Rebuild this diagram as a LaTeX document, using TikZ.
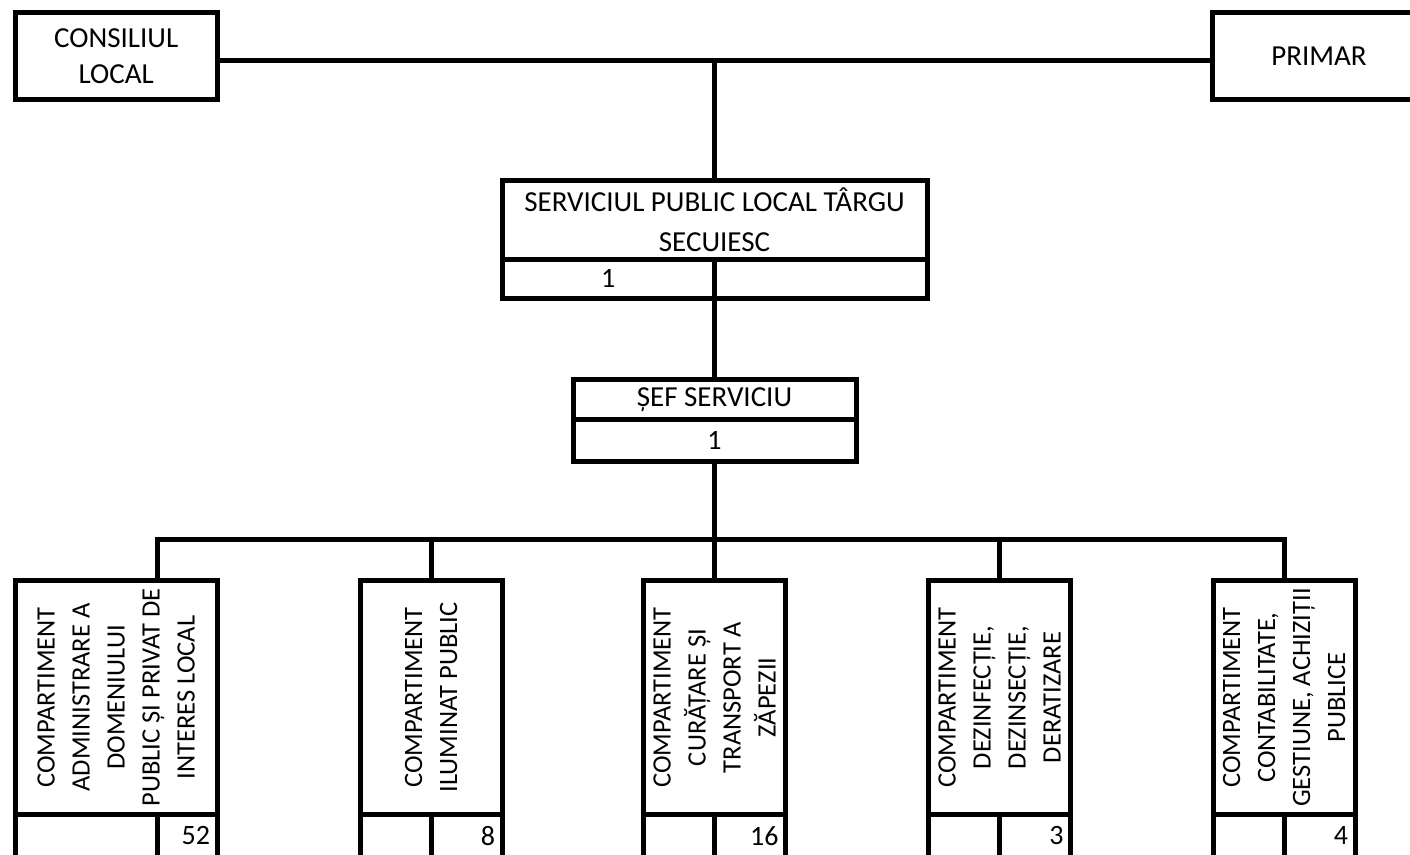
\documentclass[tikz,border=0pt]{standalone}
\usepackage{fontspec}
\setmainfont{Carlito}
\usetikzlibrary{positioning}

\begin{document}
\begin{tikzpicture}[x=1pt, y=-1pt, line width=5pt,
  box/.style={draw, rectangle, inner sep=0pt, outer sep=0pt, align=center, font=\fontsize{29}{36}\selectfont},
  vbox/.style={box, rotate=90, minimum width=234pt, font=\fontsize{26.5}{35}\selectfont},
  cell/.style={box, minimum height=42.5pt, font=\fontsize{28}{34}\selectfont},
  numcell/.style={cell, text width=#1, align=right}]

\useasboundingbox (0,0) rectangle (1410,854);

\node[box, minimum width=201.5pt, minimum height=87pt] (cl) at (116.25,56) {CONSILIUL\\LOCAL};
\node[box, minimum width=213pt, minimum height=87pt] (pr) at (1319,56) {PRIMAR};
\coordinate (tj) at (714.5,60);

\node[box, minimum width=425pt, minimum height=78.5pt, font=\fontsize{29}{40}\selectfont] (sp) at (714.5,219.75) {SERVICIUL PUBLIC LOCAL TÂRGU\\SECUIESC};
\node[cell, minimum width=212.5pt, minimum height=39.5pt] (spn) at (608.25,278.75) {1};
\node[cell, minimum width=212.5pt, minimum height=39.5pt] (spe) at (820.75,278.75) {};

\node[box, minimum width=283pt, minimum height=40.5pt] (sef) at (714.5,399.25) {ȘEF SERVICIU};
\node[cell, minimum width=283pt, minimum height=42pt] (sefn) at (714.5,440.5) {1};

\coordinate (b1) at (157,539.5);
\coordinate (b2) at (431,539.5);
\coordinate (b3) at (714.5,539.5);
\coordinate (b4) at (999.5,539.5);
\coordinate (b5) at (1284,539.5);

\node[vbox, minimum height=202pt] (adm) at (116,697.5) {COMPARTIMENT\\ADMINISTRARE A\\DOMENIULUI\\PUBLIC ȘI PRIVAT DE\\INTERES LOCAL};
\node[cell, minimum width=142pt] (adml) at (86,835.75) {};
\node[numcell=46pt, minimum width=60pt] (admn) at (187,835.75) {52};

\node[vbox, minimum height=142pt] (ilu) at (431,697.5) {COMPARTIMENT\\ILUMINAT PUBLIC};
\node[cell, minimum width=71pt] (ilul) at (395.5,835.75) {};
\node[numcell=57pt, minimum width=71pt] (ilun) at (466.5,835.75) {8};

\node[vbox, minimum height=142pt] (cur) at (714.5,697.5) {COMPARTIMENT\\CURĂȚARE ȘI\\TRANSPORT A\\ZĂPEZII};
\node[cell, minimum width=71pt] (curl) at (679,835.75) {};
\node[numcell=57pt, minimum width=71pt] (curn) at (750,835.75) {16};

\node[vbox, minimum height=142pt] (dez) at (999.5,697.5) {COMPARTIMENT\\DEZINFECȚIE,\\DEZINSECȚIE,\\DERATIZARE};
\node[cell, minimum width=71pt] (dezl) at (964,835.75) {};
\node[numcell=57pt, minimum width=71pt] (dezn) at (1035,835.75) {3};

\node[vbox, minimum height=142pt] (ctb) at (1284,697.5) {COMPARTIMENT\\CONTABILITATE,\\GESTIUNE, ACHIZIȚII\\PUBLICE};
\node[cell, minimum width=71pt] (ctbl) at (1248.5,835.75) {};
\node[numcell=57pt, minimum width=71pt] (ctbn) at (1319.5,835.75) {4};

\draw ([yshift=-4pt]cl.east) -- ([yshift=-4pt]pr.west);
\draw (tj) -- (sp.north);
\draw (spn.south east) -- (sef.north);
\draw (sefn.south) -- (b3);
\draw (b1 |- adm.east) -- (b1) -- (b5) -- (b5 |- ctb.east);
\draw (b2) -- (ilu.east);
\draw (b3) -- (cur.east);
\draw (b4) -- (dez.east);

\end{tikzpicture}
\end{document}
